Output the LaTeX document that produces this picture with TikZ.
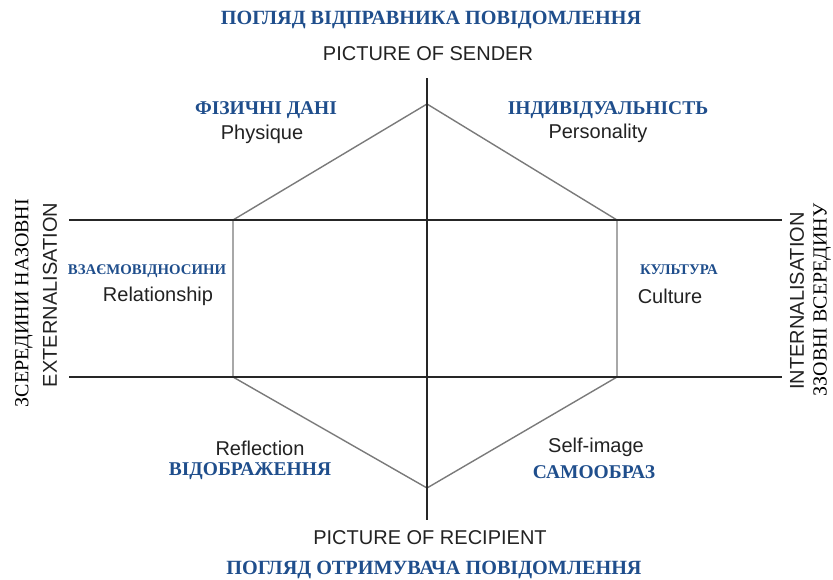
\documentclass[tikz,border=0pt]{standalone}
\usepackage{fontspec}
\setmainfont{Liberation Serif}
\newfontfamily\arialf{Liberation Sans}
\usepackage{tikz}
\usetikzlibrary{positioning,calc}
\definecolor{ukblue}{HTML}{1F4E8C}
\definecolor{entext}{HTML}{222222}
\definecolor{hexgray}{HTML}{7A7A7A}

\begin{document}
\begin{tikzpicture}[x=1pt,y=-1pt,
  ua/.style={inner sep=0pt,text=ukblue,font=\fontsize{19.5}{21}\selectfont\bfseries},
  uatitle/.style={ua,font=\fontsize{20.2}{22}\selectfont\bfseries},
  uasmall/.style={ua,font=\fontsize{14.8}{16}\selectfont\bfseries},
  en/.style={inner sep=0pt,text=entext,font=\fontsize{20}{22}\selectfont\arialf},
  side/.style={inner sep=0pt,text=black,font=\fontsize{20}{22}\selectfont,rotate=90},
  axis/.style={draw=black!85,line width=1.2pt},
  hexline/.style={draw=hexgray,line width=1.4pt}]

\useasboundingbox (0,0) rectangle (833,579);

% hexagon corners
\coordinate (top) at (427,104);
\coordinate (ul) at (233,220);
\coordinate (ur) at (617,220);
\coordinate (ll) at (233,377);
\coordinate (lr) at (617,377);
\coordinate (bot) at (427,488);

% axis ends
\coordinate (vtop) at (427,78);
\coordinate (vbot) at (427,520);
\coordinate (hl1) at (69,220);
\coordinate (hr1) at (782,220);
\coordinate (hl2) at (69,377);
\coordinate (hr2) at (782,377);

\draw[hexline] (top) -- (ur) -- (lr) -- (bot) -- (ll) -- (ul) -- cycle;

\draw[axis] (vtop) -- (vbot);
\draw[axis] (hl1) -- (hr1);
\draw[axis] (hl2) -- (hr2);

% top and bottom titles
\node[uatitle] (senderua) at (431,20) {ПОГЛЯД ВІДПРАВНИКА ПОВІДОМЛЕННЯ};
\node[en] (sender) at (428,54) {PICTURE OF SENDER};
\node[en] (recipient) at (430,538) {PICTURE OF RECIPIENT};
\node[uatitle] (recipientua) at (434,570) {ПОГЛЯД ОТРИМУВАЧА ПОВІДОМЛЕННЯ};

% the six fields
\node[ua] (physiqueua) at (266,110) {ФІЗИЧНІ ДАНІ};
\node[en] (physique) at (262,134) {Physique};
\node[ua] (personalityua) at (608,110) {ІНДИВІДУАЛЬНІСТЬ};
\node[en] (personality) at (598,133) {Personality};
\node[uasmall] (relationua) at (147,271) {ВЗАЄМОВІДНОСИНИ};
\node[en] (relation) at (158,296) {Relationship};
\node[uasmall] (cultureua) at (679,270) {КУЛЬТУРА};
\node[en] (culture) at (670,296) {Culture};
\node[en] (reflection) at (260,448) {Reflection};
\node[ua] (reflectionua) at (250,471) {ВІДОБРАЖЕННЯ};
\node[en] (selfimage) at (596,447) {Self-image};
\node[ua] (selfimageua) at (594,472) {САМООБРАЗ};

% side labels
\node[side] (outua) at (24,303) {ЗСЕРЕДИНИ НАЗОВНІ};
\node[side,font=\fontsize{20}{22}\selectfont\arialf,text=entext] (extern) at (50,295) {EXTERNALISATION};
\node[side,font=\fontsize{20}{22}\selectfont\arialf,text=entext] (intern) at (797,301) {INTERNALISATION};
\node[side] (inua) at (822,300) {ЗЗОВНІ ВСЕРЕДИНУ};

\end{tikzpicture}
\end{document}
